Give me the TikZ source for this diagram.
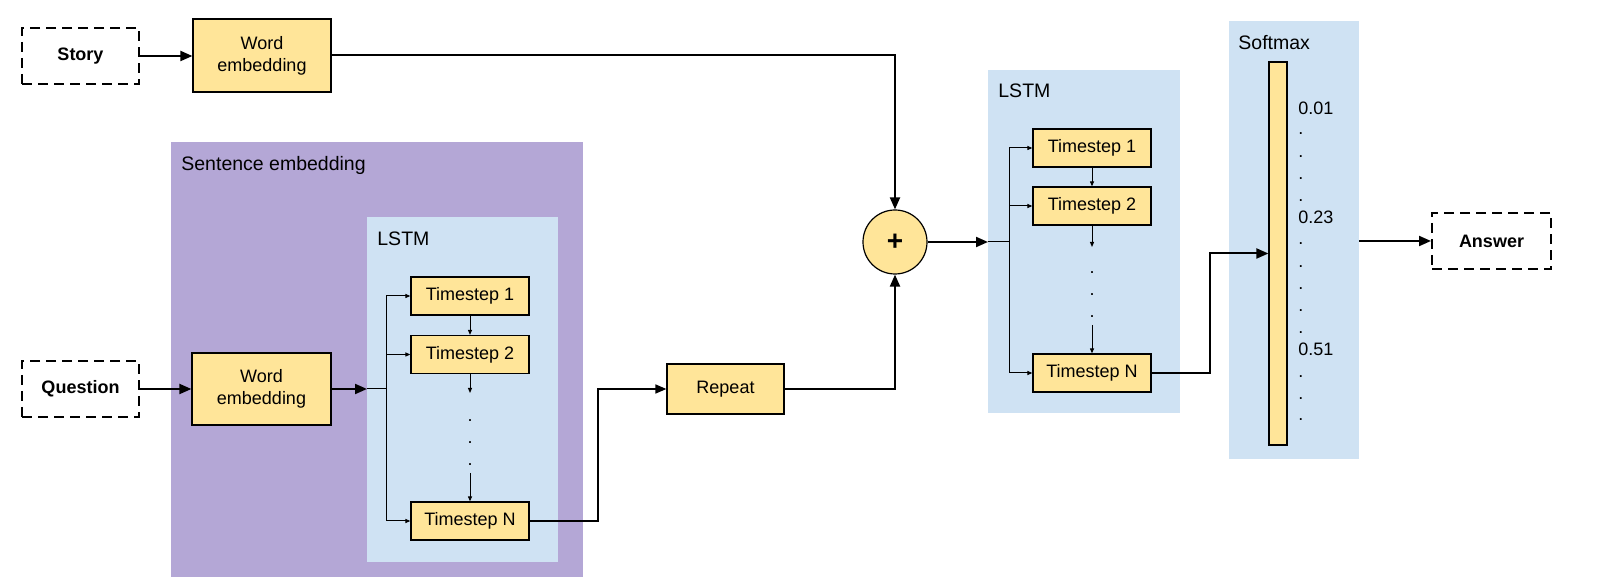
\documentclass[tikz,border=0pt]{standalone}
\usepackage{fontspec}
\setmainfont{Liberation Sans}
\usetikzlibrary{arrows.meta,calc}
\definecolor{boxyellow}{HTML}{FFE599}
\definecolor{panelpurple}{HTML}{B4A7D6}
\definecolor{panelblue}{HTML}{CFE2F3}
\begin{document}
\begin{tikzpicture}[x=0.5pt,y=-0.5pt,
  ybox/.style={draw=black, line width=0.6pt, fill=boxyellow, align=center, font=\fontsize{9}{11}\selectfont, inner sep=0pt},
  iobox/.style={draw=black, line width=1pt, dash pattern=on 5pt off 3pt, align=center, font=\fontsize{9}{11}\selectfont\bfseries, minimum width=58.5pt, minimum height=28pt, inner sep=0pt},
  tsbox/.style={ybox, minimum width=59pt, minimum height=19pt},
  panel/.style={inner sep=0pt, outer sep=0pt, draw=none},
  plabel/.style={font=\fontsize{9.75}{12}\selectfont, anchor=base west, inner sep=0pt},
  bigarrow/.style={line width=1pt, -{Triangle[length=6pt,width=5pt]}},
  midarrow/.style={line width=0.8pt, -{Triangle[length=5.5pt,width=4.5pt]}},
  smallarrow/.style={line width=0.5pt, -{Triangle[length=2.5pt,width=2pt]}},
  thinline/.style={line width=0.5pt},
  dotlabel/.style={font=\fontsize{9}{11}\selectfont, anchor=base, inner sep=0pt},
  val/.style={font=\fontsize{9}{11}\selectfont, anchor=base west, inner sep=0pt}
]
\useasboundingbox (0,0) rectangle (1608,587);

% panels
\node[panel, fill=panelpurple, minimum width=206pt, minimum height=217.5pt] (sent) at (377,359.5) {};
\node[panel, fill=panelblue, minimum width=95.5pt, minimum height=172.5pt] (lstmA) at (462.5,389.5) {};
\node[panel, fill=panelblue, minimum width=96pt, minimum height=171.5pt] (lstmB) at (1084,241.5) {};
\node[panel, fill=panelblue, minimum width=65pt, minimum height=219pt] (softmax) at (1294,240) {};
\node[draw=black, line width=0.6pt, fill=boxyellow, inner sep=0pt, minimum width=9pt, minimum height=191.5pt] (bar) at (1278,253.5) {};

% panel labels
\node[plabel] (sentlabel) at (181,171) {Sentence embedding};
\node[plabel] (lstmAlabel) at (377,246) {LSTM};
\node[plabel] (lstmBlabel) at (998,98) {LSTM};
\node[plabel] (smlabel) at (1238,50) {Softmax};

% softmax values
\node[val] (v1) at (1298,115) {0.01};
\node[val] (d1) at (1298,134.5) {.};
\node[val] (d2) at (1298,157.5) {.};
\node[val] (d3) at (1298,179.5) {.};
\node[val] (d4) at (1298,201.5) {.};
\node[val] (v2) at (1298,224) {0.23};
\node[val] (d5) at (1298,244.5) {.};
\node[val] (d6) at (1298,267.5) {.};
\node[val] (d7) at (1298,289.5) {.};
\node[val] (d8) at (1298,311.5) {.};
\node[val] (d9) at (1298,333.5) {.};
\node[val] (v3) at (1298,356) {0.51};
\node[val] (d10) at (1298,377.5) {.};
\node[val] (d11) at (1298,399.5) {.};
\node[val] (d12) at (1298,420.5) {.};

% boxes
\node[iobox] (story) at (80.5,56) {Story};
\node[ybox, minimum width=69pt, minimum height=36.5pt] (storyWE) at (262,55.5) {Word\\embedding};
\node[iobox] (question) at (80.5,389) {Question};
\node[ybox, minimum width=69.5pt, minimum height=36pt] (qWE) at (261.5,389) {Word\\embedding};
\node[tsbox] (tsAone) at (470,296) {Timestep 1};
\node[tsbox] (tsAtwo) at (470,354.5) {Timestep 2};
\node[tsbox] (tsAN) at (470,521) {Timestep N};
\node[ybox, minimum width=58.5pt, minimum height=25pt] (repeat) at (725.5,389) {Repeat};
\node[circle, draw=black, line width=0.6pt, fill=boxyellow, minimum size=32pt, inner sep=0pt, font=\fontsize{14}{14}\selectfont\bfseries] (plus) at (895,242) {+};
\node[tsbox] (tsBone) at (1092,148) {Timestep 1};
\node[tsbox] (tsBtwo) at (1092,206) {Timestep 2};
\node[tsbox] (tsBN) at (1092,373) {Timestep N};
\node[iobox, minimum width=59.5pt] (answer) at (1491.5,241) {Answer};

% chain dots
\node[dotlabel] (cA1) at (470,421.5) {.};
\node[dotlabel] (cA2) at (470,443.5) {.};
\node[dotlabel] (cA3) at (470,465.5) {.};
\node[dotlabel] (cB1) at (1092,273.5) {.};
\node[dotlabel] (cB2) at (1092,295.5) {.};
\node[dotlabel] (cB3) at (1092,317.5) {.};

% coordinates
\coordinate (brA) at (386,389);
\coordinate (dAa) at (470,393);
\coordinate (dAb) at (470,473);
\coordinate (jA) at (598,521);
\coordinate (brB) at (1009,242);
\coordinate (dBa) at (1092,247);
\coordinate (dBb) at (1092,325);
\coordinate (jB) at (1210,373);

% connectors
\draw[bigarrow] (story.east) -- (story.east -| storyWE.west);
\draw[bigarrow] (storyWE.east) -| (plus.north);
\draw[bigarrow] (question.east) -- (question.east -| qWE.west);
\draw[bigarrow] (qWE.east) -- (qWE.east -| lstmA.west);
\draw[thinline] (qWE.east -| lstmA.west) -- (brA);
\draw[smallarrow] (brA) |- (tsAone.west);
\draw[smallarrow] (brA) |- (tsAtwo.west);
\draw[smallarrow] (brA) |- (tsAN.west);
\draw[smallarrow] (tsAone.south) -- (tsAtwo.north);
\draw[smallarrow] (tsAtwo.south) -- (dAa);
\draw[smallarrow] (dAb) -- (tsAN.north);
\draw[midarrow] (tsAN.east) -- (jA) |- (repeat.west);
\draw[bigarrow] (repeat.east) -| (plus.south);
\draw[bigarrow] (plus.east) -- (plus.east -| lstmB.west);
\draw[thinline] (plus.east -| lstmB.west) -- (brB);
\draw[smallarrow] (brB) |- (tsBone.west);
\draw[smallarrow] (brB) |- (tsBtwo.west);
\draw[smallarrow] (brB) |- (tsBN.west);
\draw[smallarrow] (tsBone.south) -- (tsBtwo.north);
\draw[smallarrow] (tsBtwo.south) -- (dBa);
\draw[smallarrow] (dBb) -- (tsBN.north);
\draw[bigarrow] (tsBN.east) -- (jB) |- (bar.west);
\draw[bigarrow] (softmax.east |- answer.west) -- (answer.west);
\end{tikzpicture}
\end{document}
